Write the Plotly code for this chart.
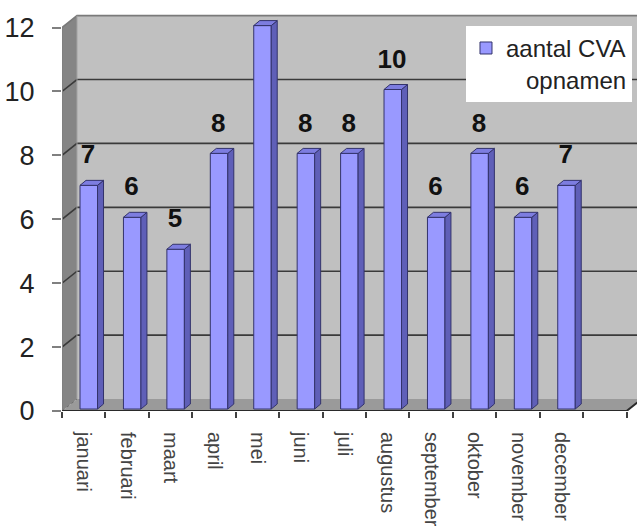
import plotly.graph_objects as go

# ---------------- data ----------------
months = ["januari", "februari", "maart", "april", "mei", "juni", "juli",
          "augustus", "september", "oktober", "november", "december"]
values = [7, 6, 5, 8, 12, 8, 8, 10, 6, 8, 6, 7]
y_ticks = [0, 2, 4, 6, 8, 10, 12]
series_name = "aantal CVA<br>\u00a0\u00a0\u00a0opnamen"

# ---------------- geometry / style ----------------
N_SLOTS = 13                  # 12 months + one empty slot on the category axis
X_MIN, X_MAX = -0.5, 12.74
Y_MIN, Y_MAX = 0, 12.8
WALL_DX, WALL_DY = 0.345, 0.374
BAR_OFFSET, BAR_WIDTH = -0.085, 0.403
BAR_BASE = 0.062
BAR_DX, BAR_DY = 0.138, 0.156
LABEL_DX, LABEL_DY = 0.1, 0.95
FONT = "Arial, Liberation Sans, sans-serif"

x_pos = list(range(len(months)))
labels = [str(v) if v < y_ticks[-1] else "" for v in values]

fig = go.Figure()

fig.add_trace(go.Bar(
    x=x_pos, y=values, base=BAR_BASE, width=BAR_WIDTH, offset=BAR_OFFSET,
    marker=dict(color="#9999ff", line=dict(color="#33336b", width=1)),
    name=series_name, showlegend=True, hoverinfo="skip",
))

fig.add_trace(go.Scatter(
    x=[i + LABEL_DX for i in x_pos], y=[v + LABEL_DY for v in values],
    mode="text", text=labels,
    textfont=dict(family=FONT, size=26, color="#111111", weight="bold"),
    showlegend=False, cliponaxis=False, hoverinfo="skip",
))

# dummy trace so the boundary-tick axis is drawn
fig.add_trace(go.Scatter(x=[X_MIN], y=[Y_MIN], xaxis="x2", mode="markers",
                         marker=dict(opacity=0), showlegend=False, hoverinfo="skip"))

shapes = []
left = X_MIN
right = X_MIN + N_SLOTS
top = y_ticks[-1]

def path(pts):
    return "M " + " L ".join(f"{px},{py}" for px, py in pts) + " Z"

def open_path(pts):
    return "M " + " L ".join(f"{px},{py}" for px, py in pts)

# floor
shapes.append(dict(type="path", layer="below",
                   path=path([(left, 0), (right, 0), (right + WALL_DX, WALL_DY), (left + WALL_DX, WALL_DY)]),
                   fillcolor="#9a9a9a", line=dict(width=0)))
# back wall
shapes.append(dict(type="path", layer="below",
                   path=path([(left + WALL_DX, WALL_DY), (right + WALL_DX, WALL_DY),
                              (right + WALL_DX, top + WALL_DY), (left + WALL_DX, top + WALL_DY)]),
                   fillcolor="#c0c0c0", line=dict(width=0)))
# side wall
shapes.append(dict(type="path", layer="below",
                   path=path([(left, 0), (left, top), (left + WALL_DX, top + WALL_DY), (left + WALL_DX, WALL_DY)]),
                   fillcolor="#858585", line=dict(width=0)))
# gridlines on side + back wall
for t in y_ticks:
    if t == 0:
        shapes.append(dict(type="path", layer="below",
                           path=open_path([(left, t), (left + WALL_DX, t + WALL_DY)]),
                           line=dict(color="#6a6a6a", width=1, dash="dot")))
        continue
    color = "#7a7a7a" if t == top else "#3a3a3a"
    shapes.append(dict(type="path", layer="below",
                       path=open_path([(left, t), (left + WALL_DX, t + WALL_DY), (right + WALL_DX, t + WALL_DY)]),
                       line=dict(color=color, width=1.6)))
# vertical edge between side wall and back wall
shapes.append(dict(type="path", layer="below",
                   path=open_path([(left + WALL_DX, WALL_DY), (left + WALL_DX, top + WALL_DY)]),
                   line=dict(color="#a0a0a0", width=1)))
# left axis line
shapes.append(dict(type="path", layer="above",
                   path=open_path([(left, 0), (left, top)]),
                   line=dict(color="#808080", width=2)))
# front floor edge
shapes.append(dict(type="path", layer="above",
                   path=open_path([(left, 0), (right, 0), (right + WALL_DX, WALL_DY)]),
                   line=dict(color="#2a2a2a", width=2)))

# 3D faces of bars
for i, v in zip(x_pos, values):
    l = i + BAR_OFFSET
    r = l + BAR_WIDTH
    tp = v + BAR_BASE
    shapes.append(dict(type="path", layer="above",
                       path=path([(r, BAR_BASE), (r, tp), (r + BAR_DX, tp + BAR_DY), (r + BAR_DX, BAR_BASE + BAR_DY)]),
                       fillcolor="#5f5fb8", line=dict(color="#33336b", width=1)))
    shapes.append(dict(type="path", layer="above",
                       path=path([(l, tp), (r, tp), (r + BAR_DX, tp + BAR_DY), (l + BAR_DX, tp + BAR_DY)]),
                       fillcolor="#7d7de0", line=dict(color="#33336b", width=1)))

fig.update_layout(
    width=637, height=527,
    margin=dict(l=62, r=0, t=2, b=114),
    paper_bgcolor="white", plot_bgcolor="white",
    font=dict(family=FONT, color="#222222"),
    shapes=shapes,
    showlegend=True,
    legend=dict(x=0.9913, xanchor="right", y=0.9416, yanchor="top",
                bgcolor="white", borderwidth=0, valign="top",
                font=dict(family=FONT, size=24, color="#222222")),
    xaxis=dict(range=[X_MIN, X_MAX], tickvals=x_pos, ticktext=months,
               tickangle=90, ticks="", showgrid=False, zeroline=False, showline=False,
               ticklabelstandoff=20,
               tickfont=dict(family=FONT, size=20, color="#444444")),
    xaxis2=dict(range=[X_MIN, X_MAX], overlaying="x", side="bottom", anchor="y",
                tickvals=[left + k for k in range(N_SLOTS + 1)],
                ticks="outside", ticklen=6, tickwidth=1.5, tickcolor="#404040",
                showticklabels=False, showgrid=False, zeroline=False, showline=False),
    yaxis=dict(range=[Y_MIN, Y_MAX], tickvals=y_ticks, ticks="outside", ticklen=9,
               tickwidth=1.5, tickcolor="#808080", showgrid=False, zeroline=False,
               showline=False, ticklabelstandoff=12,
               tickfont=dict(family=FONT, size=27, color="#222222")),
)

fig.write_html("out.html")
